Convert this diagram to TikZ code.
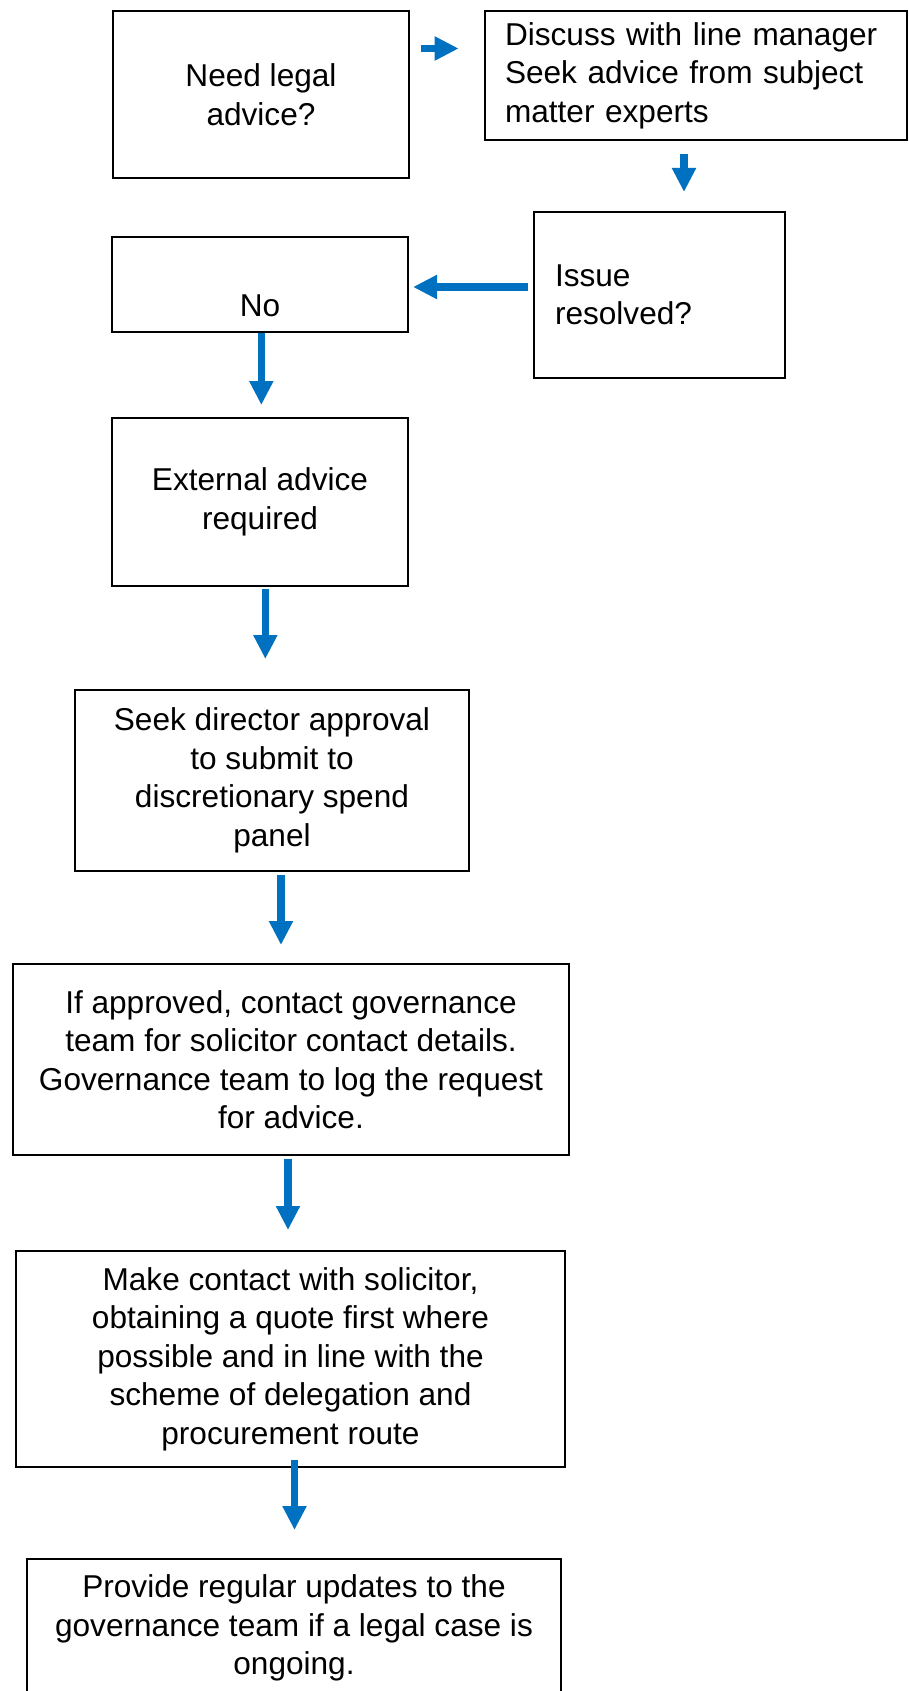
\documentclass[tikz,border=0pt]{standalone}
\usepackage{fontspec}
\setmainfont{Liberation Sans}
\usetikzlibrary{arrows.meta}
\definecolor{flowblue}{HTML}{0070C0}

\begin{document}
\begin{tikzpicture}[x=0.75pt, y=-0.75pt,
    box/.style={rectangle, draw, line width=1.5pt, inner sep=0pt, align=center,
        font=\fontsize{23.7}{28.9}\selectfont},
    flow/.style={color=flowblue, line width=5.5pt, -{Triangle[width=17pt, length=18pt]}}]
    \useasboundingbox (0, 0) rectangle (909, 1691);
    \clip (0, 0) rectangle (909, 1691);
    \node[box, minimum width=222pt, minimum height=125.25pt] (0) at (261, 94.5) {Need legal\\advice?};
    \node[box, minimum width=316.5pt, minimum height=96.75pt, text width=286.5pt, align=left] (1) at (696, 75.5) {Discuss with line manager\\Seek advice from subject\\matter experts};
    \node[box, minimum width=188.25pt, minimum height=124.5pt, text width=156.75pt, align=left] (2) at (659.5, 295) {Issue\\resolved?};
    \node[box, minimum width=222pt, minimum height=71.25pt, text height=48pt, text depth=0pt] (3) at (260, 284.5) {No};
    \node[box, minimum width=222pt, minimum height=126pt] (4) at (260, 502) {External advice\\required};
    \node[box, minimum width=295.5pt, minimum height=135.75pt] (5) at (272, 780.5) {Seek director approval\\to submit to\\discretionary spend\\panel};
    \node[box, minimum width=417pt, minimum height=143.25pt] (6) at (291, 1059.5) {If approved, contact governance\\team for solicitor contact details.\\Governance team to log the request\\for advice.};
    \node[box, minimum width=411.75pt, minimum height=162pt] (7) at (290.5, 1359) {Make contact with solicitor,\\obtaining a quote first where\\possible and in line with the\\scheme of delegation and\\procurement route};
    \node[box, minimum width=400.5pt, minimum height=103.5pt] (8) at (294, 1628) {Provide regular updates to the\\governance team if a legal case is\\ongoing.};
    \draw[flow, shorten <=8pt, shorten >=19pt] ([yshift=34.5pt]0.east) -- ([yshift=34.5pt]0.east -| 1.west);
    \draw[flow, shorten <=9.75pt, shorten >=14.25pt] ([xshift=-9pt]1.south) -- ([xshift=-9pt]1.south |- 2.north);
    \draw[flow, shorten <=3.75pt, shorten >=3pt] ([yshift=6pt]2.west) -- ([yshift=6pt]2.west -| 3.east);
    \draw[flow, shorten >=9pt] ([xshift=1pt]3.south) -- ([xshift=1pt]3.south |- 4.north);
    \draw[flow, shorten <=1.5pt, shorten >=22.5pt] ([xshift=4pt]4.south) -- ([xshift=4pt]4.south |- 5.north);
    \draw[flow, shorten <=2.25pt, shorten >=13.5pt] ([xshift=6.75pt]5.south) -- ([xshift=6.75pt]5.south |- 6.north);
    \draw[flow, shorten <=2.25pt, shorten >=15pt] ([xshift=-2.25pt]6.south) -- ([xshift=-2.25pt]6.south |- 7.north);
    \draw[flow, shorten <=-6pt, shorten >=21pt] ([xshift=3pt]7.south) -- ([xshift=3pt]7.south |- 8.north);
\end{tikzpicture}
\end{document}
